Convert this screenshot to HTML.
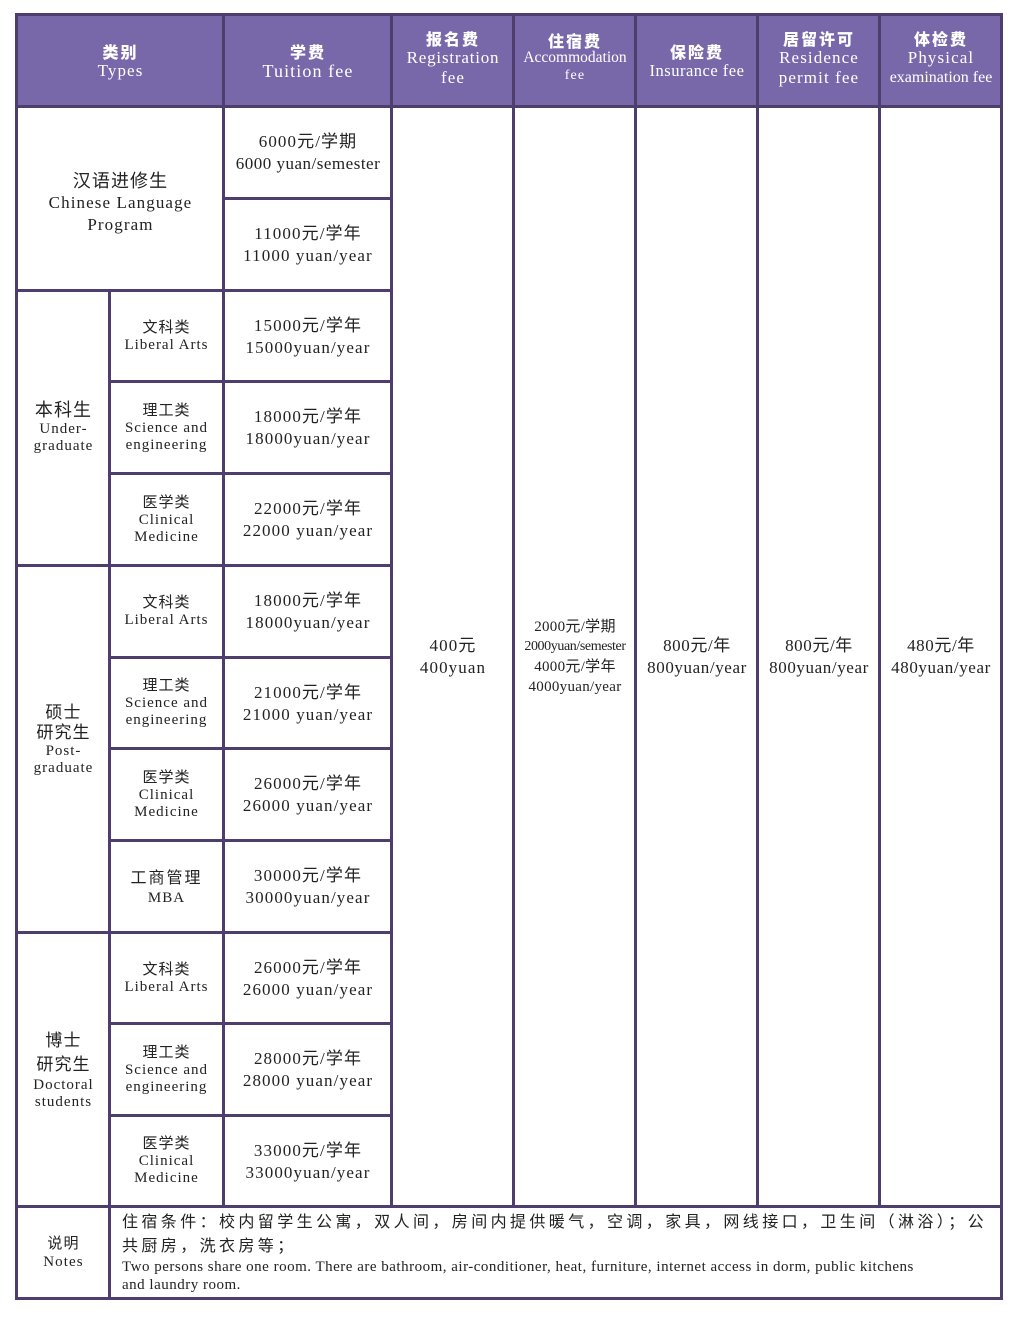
<!DOCTYPE html><html><head><meta charset="utf-8"><style>
body{margin:0;width:1020px;height:1317px;background:#fff;position:relative;overflow:hidden;font-family:"Liberation Serif","Noto Sans CJK SC",serif;color:#222}
.h{position:absolute;background:#4d3e6e;height:3px}
.v{position:absolute;background:#4d3e6e;width:3px}
.c{position:absolute;display:flex;flex-direction:column;align-items:center;justify-content:center;text-align:center;font-size:17px;line-height:22px;letter-spacing:1.1px}
.hd{color:#fff;font-size:17px;line-height:20px}
.hd b{font-family:"Noto Sans CJK SC",sans-serif;font-weight:900;font-size:16px;letter-spacing:2px}
.s{font-size:15px;line-height:17px;letter-spacing:1px}
</style></head><body>
<div style="position:absolute;left:15px;top:13px;width:988px;height:94px;background:#7868aa"></div>
<div class="h" style="top:13px;left:15px;width:988px"></div>
<div class="h" style="top:105px;left:15px;width:988px"></div>
<div class="h" style="top:197px;left:223px;width:170px"></div>
<div class="h" style="top:289px;left:15px;width:378px"></div>
<div class="h" style="top:380px;left:109px;width:284px"></div>
<div class="h" style="top:472px;left:109px;width:284px"></div>
<div class="h" style="top:564px;left:15px;width:378px"></div>
<div class="h" style="top:656px;left:109px;width:284px"></div>
<div class="h" style="top:747px;left:109px;width:284px"></div>
<div class="h" style="top:839px;left:109px;width:284px"></div>
<div class="h" style="top:931px;left:15px;width:378px"></div>
<div class="h" style="top:1022px;left:109px;width:284px"></div>
<div class="h" style="top:1114px;left:109px;width:284px"></div>
<div class="h" style="top:1205px;left:15px;width:988px"></div>
<div class="h" style="top:1297px;left:15px;width:988px"></div>
<div class="v" style="left:15px;top:13px;height:1287px"></div>
<div class="v" style="left:108px;top:289px;height:1011px"></div>
<div class="v" style="left:222px;top:13px;height:1195px"></div>
<div class="v" style="left:390px;top:13px;height:1195px"></div>
<div class="v" style="left:512px;top:13px;height:1195px"></div>
<div class="v" style="left:634px;top:13px;height:1195px"></div>
<div class="v" style="left:756px;top:13px;height:1195px"></div>
<div class="v" style="left:878px;top:13px;height:1195px"></div>
<div class="v" style="left:1000px;top:13px;height:1287px"></div>

<div class="c hd" style="left:18px;top:16px;width:205px;height:90px"><b>类别</b>Types</div>
<div class="c hd" style="left:225px;top:16px;width:166px;height:90px"><b>学费</b><span style="font-size:18px">Tuition fee</span></div>
<div class="c hd" style="left:393px;top:16px;width:120px;height:90px;margin-top:-3px"><b>报名费</b><span style="font-size:17px;letter-spacing:0.8px">Registration</span>fee</div>
<div class="c hd" style="left:515px;top:16px;width:120px;height:90px;margin-top:-3px;line-height:18px"><b>住宿费</b><span style="font-size:15.5px;letter-spacing:0">Accommodation</span><span style="font-size:14px">fee</span></div>
<div class="c hd" style="left:637px;top:16px;width:120px;height:90px"><b>保险费</b><span style="font-size:16.5px;letter-spacing:0.5px">Insurance fee</span></div>
<div class="c hd" style="left:759px;top:16px;width:120px;height:90px;margin-top:-3px"><b>居留许可</b>Residence<br>permit fee</div>
<div class="c hd" style="left:881px;top:16px;width:120px;height:90px;margin-top:-3px"><b>体检费</b>Physical<span style="letter-spacing:0;font-size:16px">examination fee</span></div>

<div class="c" style="left:18px;top:108px;width:205px;height:182px;margin-top:4px"><span style="font-size:18px;line-height:22px">汉语进修生</span>Chinese Language<br>Program</div>
<div class="c" style="left:225px;top:108px;width:166px;height:90px;margin-top:0px">6000元/学期<br><span style="letter-spacing:0.5px">6000 yuan/semester</span></div>
<div class="c" style="left:225px;top:200px;width:166px;height:90px">11000元/学年<br>11000 yuan/year</div>

<div class="c" style="left:18px;top:292px;width:91px;height:273px;margin-top:-2px"><span style="font-size:18px;line-height:22px">本科生</span><span class="s">Under-<br>graduate</span></div>
<div class="c" style="left:110px;top:292px;width:113px;height:89px"><span class="s">文科类<br>Liberal Arts</span></div>
<div class="c" style="left:110px;top:383px;width:113px;height:90px"><span class="s">理工类<br>Science and<br>engineering</span></div>
<div class="c" style="left:110px;top:475px;width:113px;height:90px"><span class="s">医学类<br>Clinical<br>Medicine</span></div>
<div class="c" style="left:225px;top:292px;width:166px;height:89px">15000元/学年<br>15000yuan/year</div>
<div class="c" style="left:225px;top:383px;width:166px;height:90px">18000元/学年<br>18000yuan/year</div>
<div class="c" style="left:225px;top:475px;width:166px;height:90px">22000元/学年<br>22000 yuan/year</div>

<div class="c" style="left:18px;top:567px;width:91px;height:365px;margin-top:-10px"><span style="font-size:17px;line-height:20px">硕士<br>研究生</span><span class="s">Post-<br>graduate</span></div>
<div class="c" style="left:110px;top:567px;width:113px;height:90px"><span class="s">文科类<br>Liberal Arts</span></div>
<div class="c" style="left:110px;top:659px;width:113px;height:89px"><span class="s">理工类<br>Science and<br>engineering</span></div>
<div class="c" style="left:110px;top:750px;width:113px;height:90px"><span class="s">医学类<br>Clinical<br>Medicine</span></div>
<div class="c" style="left:110px;top:842px;width:113px;height:90px"><span style="font-size:16px;letter-spacing:2px">工商管理</span><span class="s">MBA</span></div>
<div class="c" style="left:225px;top:567px;width:166px;height:90px">18000元/学年<br>18000yuan/year</div>
<div class="c" style="left:225px;top:659px;width:166px;height:89px">21000元/学年<br>21000 yuan/year</div>
<div class="c" style="left:225px;top:750px;width:166px;height:90px">26000元/学年<br>26000 yuan/year</div>
<div class="c" style="left:225px;top:842px;width:166px;height:90px">30000元/学年<br>30000yuan/year</div>

<div class="c" style="left:18px;top:934px;width:91px;height:272px"><span style="font-size:17px;line-height:24px">博士<br>研究生</span><span class="s">Doctoral<br>students</span></div>
<div class="c" style="left:110px;top:934px;width:113px;height:89px"><span class="s">文科类<br>Liberal Arts</span></div>
<div class="c" style="left:110px;top:1025px;width:113px;height:90px"><span class="s">理工类<br>Science and<br>engineering</span></div>
<div class="c" style="left:110px;top:1117px;width:113px;height:89px"><span class="s">医学类<br>Clinical<br>Medicine</span></div>
<div class="c" style="left:225px;top:934px;width:166px;height:89px">26000元/学年<br>26000 yuan/year</div>
<div class="c" style="left:225px;top:1025px;width:166px;height:90px">28000元/学年<br>28000 yuan/year</div>
<div class="c" style="left:225px;top:1117px;width:166px;height:89px">33000元/学年<br>33000yuan/year</div>

<div class="c" style="left:393px;top:108px;width:120px;height:1098px">400元<br>400yuan</div>
<div class="c" style="left:515px;top:108px;width:120px;height:1098px;font-size:15px;line-height:20px;letter-spacing:0.3px">2000元/学期<br><span style="font-size:14px;letter-spacing:-0.4px">2000yuan/semester</span>4000元/学年<br>4000yuan/year</div>
<div class="c" style="left:637px;top:108px;width:120px;height:1098px;letter-spacing:0.6px">800元/年<br>800yuan/year</div>
<div class="c" style="left:759px;top:108px;width:120px;height:1098px;letter-spacing:0.6px">800元/年<br>800yuan/year</div>
<div class="c" style="left:881px;top:108px;width:120px;height:1098px;letter-spacing:0.6px">480元/年<br>480yuan/year</div>

<div class="c" style="left:18px;top:1208px;width:91px;height:90px;font-size:15px;line-height:18px">说明<br>Notes</div>
<div style="position:absolute;left:122px;top:1211px;width:870px;font-size:16px;line-height:24px;letter-spacing:3.4px">住宿条件：校内留学生公寓，双人间，房间内提供暖气，空调，家具，网线接口，卫生间（淋浴）；公共厨房，洗衣房等；</div>
<div style="position:absolute;left:122px;top:1258px;width:860px;font-size:15px;line-height:18px;letter-spacing:0.5px">Two persons share one room. There are bathroom, air-conditioner, heat, furniture, internet access in dorm, public kitchens<br>and laundry room.</div>
</body></html>
